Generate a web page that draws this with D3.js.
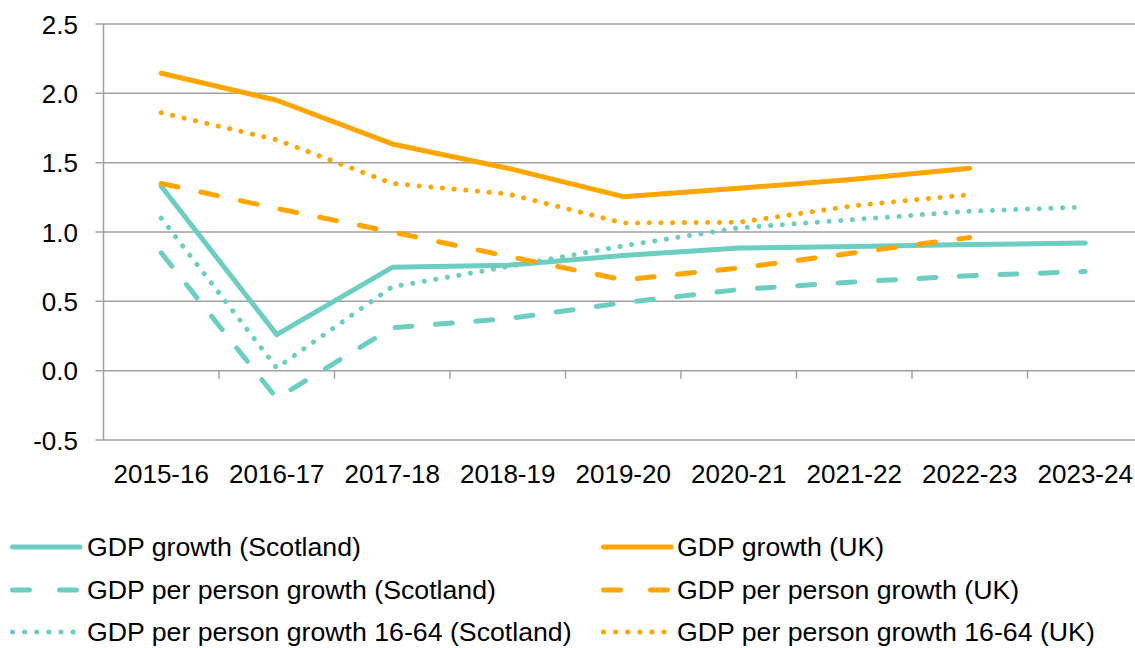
<!DOCTYPE html>
<html><head><meta charset="utf-8">
<script src="https://cdn.jsdelivr.net/npm/d3@7"></script>
<style>
html,body{margin:0;padding:0;background:#fff;}
text{font-family:"Liberation Sans",Arial,sans-serif;fill:#000;}
</style></head>
<body><svg id="chart" width="1135" height="648"></svg>
<script>
const categories = ["2015-16","2016-17","2017-18","2018-19","2019-20","2020-21","2021-22","2022-23","2023-24"];
const yTicks = [-0.5, 0.0, 0.5, 1.0, 1.5, 2.0, 2.5];
const gdpScotland = [1.33, 0.26, 0.745, 0.76, 0.83, 0.885, 0.895, 0.91, 0.92];
const gdpPerPersonScotland = [0.85, -0.2, 0.31, 0.375, 0.49, 0.585, 0.64, 0.685, 0.715];
const gdpPerPerson1664Scotland = [1.10, 0.02, 0.605, 0.75, 0.90, 1.03, 1.09, 1.15, 1.18];
const gdpUK = [2.145, 1.95, 1.635, 1.46, 1.255, 1.315, 1.38, 1.46, null];
const gdpPerPersonUK = [1.35, 1.17, 1.0, 0.825, 0.655, 0.74, 0.85, 0.96, null];
const gdpPerPerson1664UK = [1.86, 1.665, 1.35, 1.275, 1.065, 1.07, 1.19, 1.27, null];

const TEAL = "#6ccdc1", ORANGE = "#ffa500", GRID = "#a0a0a0";
const series = [
  {name:"GDP growth (Scotland)", values:gdpScotland, color:TEAL, style:"solid"},
  {name:"GDP per person growth (Scotland)", values:gdpPerPersonScotland, color:TEAL, style:"dash"},
  {name:"GDP per person growth 16-64 (Scotland)", values:gdpPerPerson1664Scotland, color:TEAL, style:"dot"},
  {name:"GDP growth (UK)", values:gdpUK, color:ORANGE, style:"solid"},
  {name:"GDP per person growth (UK)", values:gdpPerPersonUK, color:ORANGE, style:"dash"},
  {name:"GDP per person growth 16-64 (UK)", values:gdpPerPerson1664UK, color:ORANGE, style:"dot"}
];
const dashes = {solid:null, dash:"17,23.5", dot:"0.1,11.6"};

const svg = d3.select("#chart");
const left = 103.5, bw = 115.5;
const x = d3.scaleBand().domain(categories).range([left, left + bw*categories.length]).padding(0);
const y = d3.scaleLinear().domain([-0.5, 2.5]).range([440, 24]);
const FS = 26, LFS = 26.7;

// gridlines
svg.append("g").selectAll("line").data(yTicks).join("line")
  .attr("x1", left - 8).attr("x2", 1135)
  .attr("y1", d => y(d)).attr("y2", d => y(d))
  .attr("stroke", GRID).attr("stroke-width", 1.5);
// y axis line
svg.append("line").attr("x1", left).attr("x2", left).attr("y1", y(2.5)).attr("y2", y(-0.5))
  .attr("stroke", GRID).attr("stroke-width", 1.5);
// x tick marks at category boundaries on zero line
svg.append("g").selectAll("line").data(categories.slice(1)).join("line")
  .attr("x1", d => x(d)).attr("x2", d => x(d))
  .attr("y1", y(0)).attr("y2", y(0) + 8)
  .attr("stroke", GRID).attr("stroke-width", 1.5);

// y labels
svg.append("g").selectAll("text").data(yTicks).join("text")
  .attr("x", 78).attr("y", d => y(d) + 9.5)
  .attr("text-anchor", "end").attr("font-size", FS)
  .text(d => d.toFixed(1));

// x labels
svg.append("g").selectAll("text").data(categories).join("text")
  .attr("x", d => x(d) + x.bandwidth()/2).attr("y", 483)
  .attr("text-anchor", "middle").attr("font-size", FS)
  .text(d => d);

// lines
const line = d3.line()
  .defined(d => d.v !== null)
  .x(d => x(d.c) + x.bandwidth()/2)
  .y(d => y(d.v));
series.forEach(s => {
  svg.append("path")
    .datum(categories.map((c,i) => ({c, v:s.values[i]})))
    .attr("d", line)
    .attr("fill", "none")
    .attr("stroke", s.color)
    .attr("stroke-width", 5)
    .attr("stroke-linecap", "round")
    .attr("stroke-linejoin", "round")
    .attr("stroke-dasharray", dashes[s.style]);
});

// legend
const legPos = [
  {lx:10, tx:87, y:547},{lx:10, tx:87, y:590},{lx:10, tx:87, y:632},
  {lx:601, tx:677, y:547},{lx:601, tx:677, y:590},{lx:601, tx:677, y:632}
];
series.forEach((s,i) => {
  const p = legPos[i];
  const g = svg.append("g");
  g.append("line").attr("x1", p.lx + 2.5).attr("x2", p.lx + 70)
    .attr("y1", p.y).attr("y2", p.y)
    .attr("stroke", s.color).attr("stroke-width", 5)
    .attr("stroke-linecap", "round")
    .attr("stroke-dasharray", s.style === "dash" ? "17,30" : s.style === "dot" ? "0.1,12" : null);
  g.append("text").attr("x", p.tx).attr("y", p.y + 9).attr("font-size", LFS).text(s.name);
});
</script></body></html>
